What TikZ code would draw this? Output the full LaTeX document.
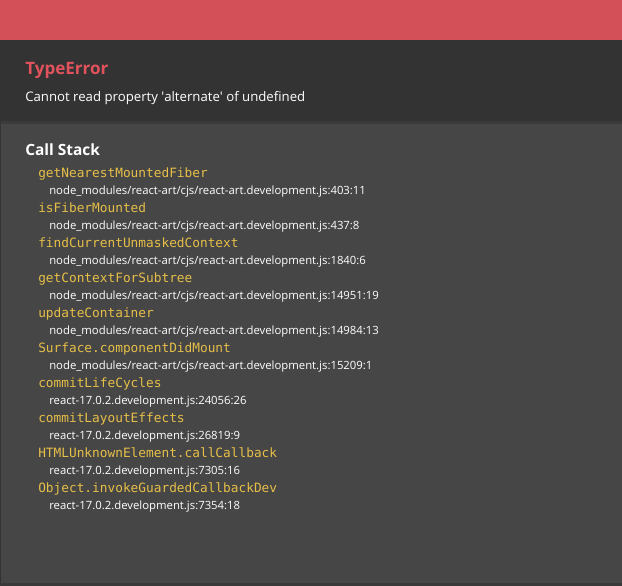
\documentclass[tikz,border=0pt]{standalone}
\usepackage{fontspec}
\setmainfont{Open Sans}
\setmonofont{DejaVu Sans Mono}
\definecolor{banner}{HTML}{D35058}
\definecolor{headbg}{HTML}{333333}
\definecolor{panelbg}{HTML}{464646}
\definecolor{errred}{HTML}{E0525C}
\definecolor{fnyellow}{HTML}{E6BF48}
\begin{document}
\begin{tikzpicture}
    [
    x=0.75pt, y=-0.75pt,
    heading/.style={anchor=base west,inner sep=0pt,font=\bfseries\fontsize{11.6}{14}\selectfont},
    message/.style={anchor=base west,inner sep=0pt,text=white,font=\fontsize{9.9}{12}\selectfont},
    frame/.style={anchor=base west,inner sep=0pt,text=fnyellow,font=\ttfamily\fontsize{9.6}{12}\selectfont},
    location/.style={anchor=base west,inner sep=0pt,text=white,font=\fontsize{8.5}{11}\selectfont}
    ]
    \useasboundingbox (0,0) rectangle (622,586);
    \fill [panelbg] (0,0) rectangle (622,586);
    \fill [headbg] (0,40) rectangle (622,121);
    \fill [banner] (0,0) rectangle (622,40);
    \fill [headbg!60!panelbg] (0,121) rectangle (622,124);
    \fill [headbg] (0,40) rectangle (1.5,586);
    \fill [headbg!70!panelbg] (0,583) rectangle (622,586);
    \node (type) at (25,74) [heading, text=errred, font=\bfseries\fontsize{12.8}{15}\selectfont] {TypeError};
    \node (msg) at (25,101) [message] {Cannot read property \textquotesingle alternate\textquotesingle\ of undefined};
    \node (stack) at (25,155) [heading, text=white] {Call Stack};
    \foreach \fn/\loc [count=\i from 0] in {
      getNearestMountedFiber/{node\_modules/react-art/cjs/react-art.development.js:403:11},
      isFiberMounted/{node\_modules/react-art/cjs/react-art.development.js:437:8},
      findCurrentUnmaskedContext/{node\_modules/react-art/cjs/react-art.development.js:1840:6},
      getContextForSubtree/{node\_modules/react-art/cjs/react-art.development.js:14951:19},
      updateContainer/{node\_modules/react-art/cjs/react-art.development.js:14984:13},
      Surface.componentDidMount/{node\_modules/react-art/cjs/react-art.development.js:15209:1},
      commitLifeCycles/{react-17.0.2.development.js:24056:26},
      commitLayoutEffects/{react-17.0.2.development.js:26819:9},
      HTMLUnknownElement.callCallback/{react-17.0.2.development.js:7305:16},
      Object.invokeGuardedCallbackDev/{react-17.0.2.development.js:7354:18}}
    {
      \node (f\i) at (38,177+35*\i) [frame] {\fn};
      \node (l\i) at (49,194+35*\i) [location] {\loc};
    }
  \end{tikzpicture}
\end{document}
